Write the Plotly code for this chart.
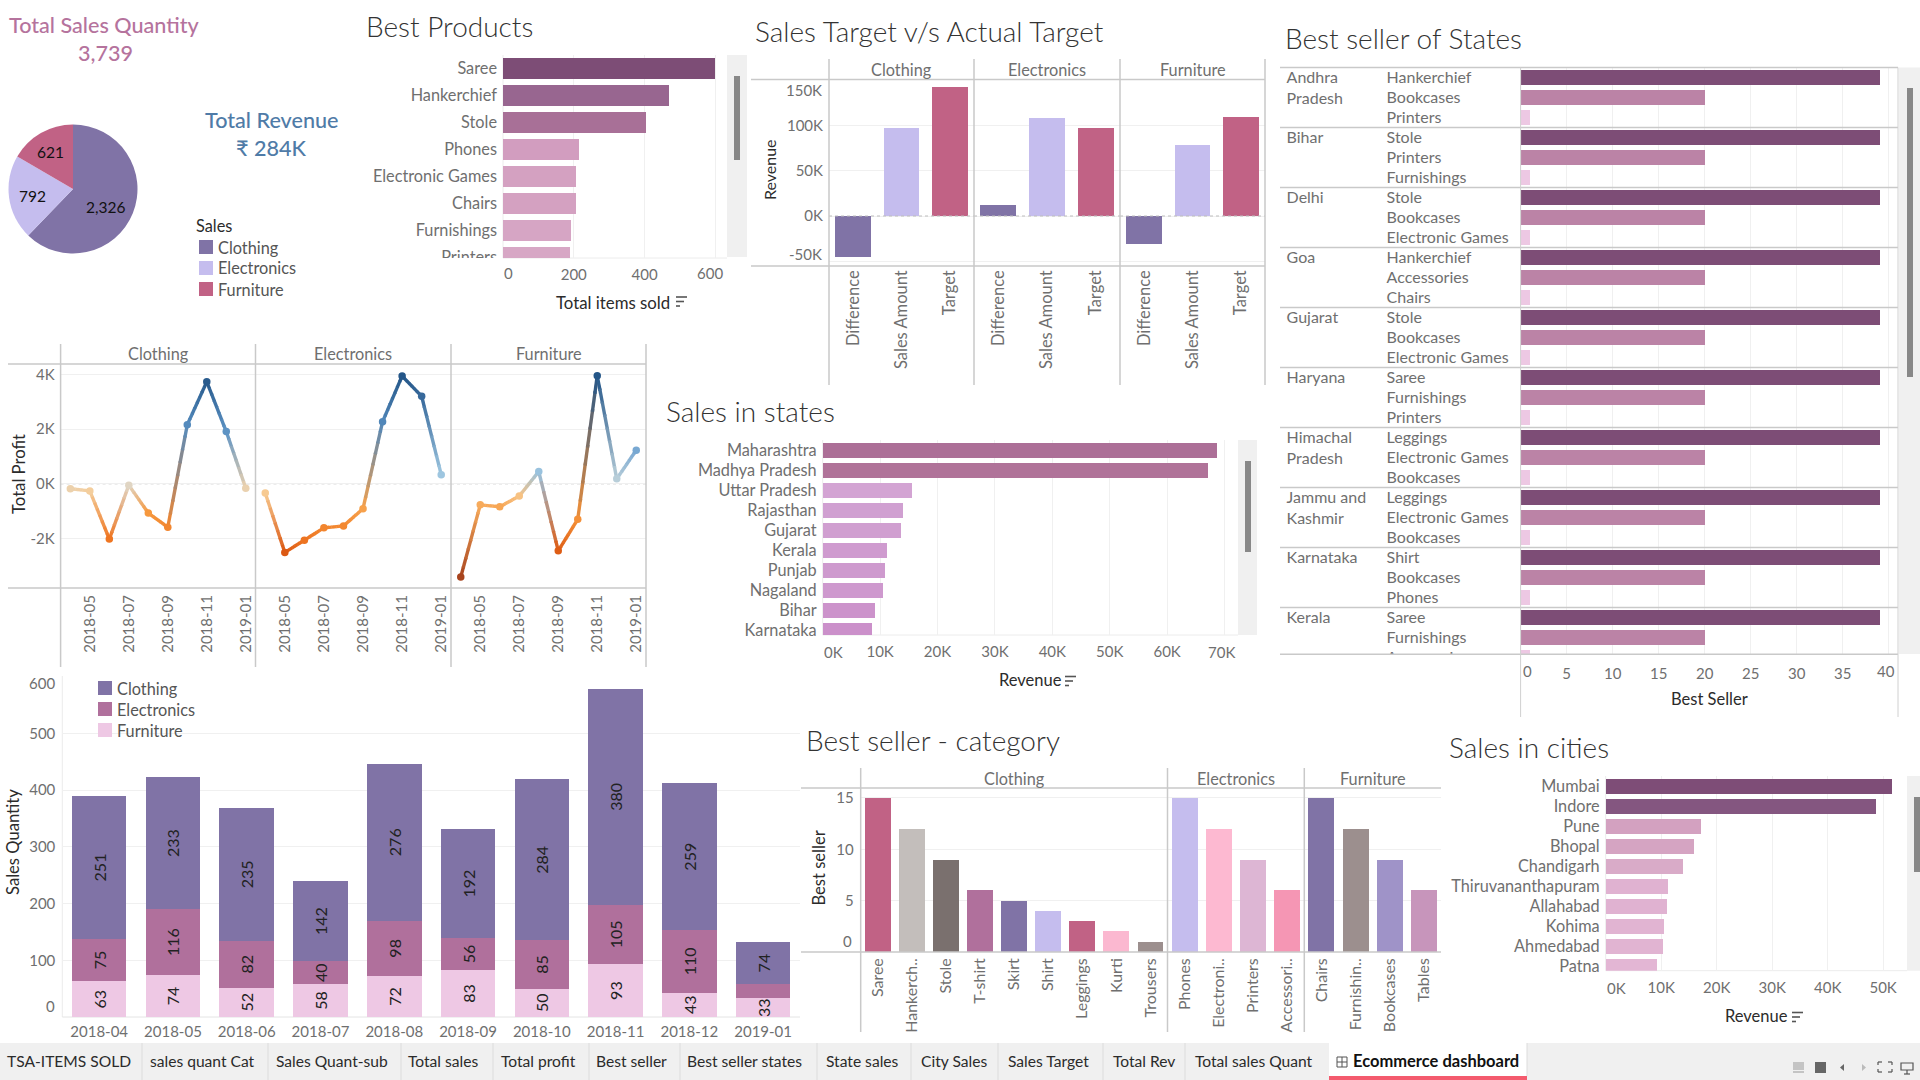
import numpy as np
import plotly.graph_objects as go

W, H = 1920, 1080
FONT = "Lato, sans-serif"
TICK = "#6f6f6f"
DARK = "#2b2b2b"
LINE = "#c9c9c9"
GRID = "#f0f0f0"
PURPLE, LILAC, ROSE = "#8073a6", "#c5bdee", "#c16285"
LABEL_SIZE = 16.3
NUM_SIZE = 15
TITLE_SIZE = 16.5

# ---------- data ----------
pie_labels = ["Clothing", "Electronics", "Furniture"]
pie_values = [2326, 792, 621]

products = ["Saree", "Hankerchief", "Stole", "Phones", "Electronic Games", "Chairs", "Furnishings", "Printers"]
product_items = [600, 470, 403, 216, 207, 207, 193, 188]
product_colors = ["#7d4d76", "#986690", "#a87097", "#d29dbf", "#d4a1c1", "#d4a1c1", "#d6a5c4", "#d7a7c5"]

target_cats = ["Difference", "Sales Amount", "Target"]
target_clothing = [-45300, 97100, 142400]
target_electronics = [12100, 108200, 97100]
target_furniture = [-30900, 78400, 109300]

months = ["2018-04", "2018-05", "2018-06", "2018-07", "2018-08", "2018-09", "2018-10", "2018-11", "2018-12", "2019-01"]
profit_ticks = ["2018-05", "2018-07", "2018-09", "2018-11", "2019-01"]
profit_clothing = [-180, -260, -2020, -50, -1070, -1590, 2160, 3730, 1910, -160]
profit_electronics = [-340, -2510, -2060, -1610, -1540, -910, 2270, 3940, 3200, 330]
profit_furniture = [-3410, -770, -840, -450, 450, -2450, -1300, 3950, 180, 1230]

qty_furniture = [63, 74, 52, 58, 72, 83, 50, 93, 43, 33]
qty_electronics = [75, 116, 82, 40, 98, 56, 85, 105, 110, 25]
qty_clothing = [251, 233, 235, 142, 276, 192, 284, 380, 259, 74]

states = ["Maharashtra", "Madhya Pradesh", "Uttar Pradesh", "Rajasthan", "Gujarat", "Kerala", "Punjab", "Nagaland", "Bihar", "Karnataka"]
state_revenue = [68700, 67200, 15600, 14000, 13700, 11200, 10900, 10500, 9100, 8600]
state_colors = ["#ac6f97", "#b07399", "#d3a4d3", "#d0a0d1", "#d09fd0", "#cf9bcf", "#ce9ace", "#ce99ce", "#cc93cb", "#cb90ca"]

seller_states = [["Andhra", "Pradesh"], ["Bihar"], ["Delhi"], ["Goa"], ["Gujarat"], ["Haryana"],
                 ["Himachal", "Pradesh"], ["Jammu and", "Kashmir"], ["Karnataka"], ["Kerala"]]
seller_products = [
    ["Hankerchief", "Bookcases", "Printers"], ["Stole", "Printers", "Furnishings"],
    ["Stole", "Bookcases", "Electronic Games"], ["Hankerchief", "Accessories", "Chairs"],
    ["Stole", "Bookcases", "Electronic Games"], ["Saree", "Furnishings", "Printers"],
    ["Leggings", "Electronic Games", "Bookcases"], ["Leggings", "Electronic Games", "Bookcases"],
    ["Shirt", "Bookcases", "Phones"], ["Saree", "Furnishings", "Accessories"]]
seller_rank_values = [39, 20, 1]
seller_rank_colors = ["#7d4d76", "#bb83a6", "#edc8e3"]

cat_clothing = ["Saree", "Hankerch..", "Stole", "T-shirt", "Skirt", "Shirt", "Leggings", "Kurti", "Trousers"]
val_clothing = [15, 12, 9, 6, 5, 4, 3, 2, 1]
col_clothing = ["#c16285", "#c3bebb", "#7a706e", "#b0709c", "#8073a6", "#c5bdee", "#c16285", "#fbb8d0", "#9c8f8e"]
cat_electronics = ["Phones", "Electroni..", "Printers", "Accessori.."]
val_electronics = [15, 12, 9, 6]
col_electronics = ["#c5bdee", "#fdb9d1", "#ddb6d4", "#f596b4"]
cat_furniture = ["Chairs", "Furnishin..", "Bookcases", "Tables"]
val_furniture = [15, 12, 9, 6]
col_furniture = ["#8073a6", "#9c8f8e", "#9f93c8", "#c795bb"]

cities = ["Mumbai", "Indore", "Pune", "Bhopal", "Chandigarh", "Thiruvananthapuram", "Allahabad", "Kohima", "Ahmedabad", "Patna"]
city_revenue = [51600, 48700, 17200, 15900, 13900, 11200, 11000, 10500, 10300, 9200]
city_colors = ["#7e4d77", "#845680", "#d3a1c0", "#d5a4c2", "#d9abc8", "#e0b2d1", "#e0b2d1", "#e1b4d2", "#e1b4d2", "#e3b6d4"]

tabs = ["TSA-ITEMS SOLD", "sales quant Cat", "Sales Quant-sub", "Total sales", "Total profit", "Best seller",
        "Best seller states", "State sales", "City Sales", "Sales Target", "Total Rev", "Total sales Quant"]
active_tab = "Ecommerce dashboard"
tab_x = [7, 149.5, 275.5, 408, 500.5, 596.4, 687, 826, 921, 1008, 1113, 1195]
tab_sep = [142, 268, 401, 493, 589, 680, 817, 911, 998, 1103, 1185]

# ---------- helpers ----------
fig = go.Figure()
shapes, annots, layout = [], [], {}


def px(x):
    return x / W


def py(y):
    return 1 - y / H


def text(x, y, s, size=NUM_SIZE, color=TICK, anchor="left", angle=0, weight=None, vanchor="middle"):
    f = dict(family=FONT, size=size, color=color)
    if weight:
        f["weight"] = weight
    annots.append(dict(x=px(x), y=py(y - 1), xref="paper", yref="paper", text=s, showarrow=False, font=f,
                       xanchor=anchor, yanchor=vanchor, textangle=angle, borderpad=0, borderwidth=0))


def rect(x0, y0, x1, y1, fill, layer="above"):
    shapes.append(dict(type="rect", xref="paper", yref="paper", x0=px(x0), x1=px(x1), y0=py(y0), y1=py(y1),
                       fillcolor=fill, line=dict(width=0), layer=layer))


def seg(x0, y0, x1, y1, color=LINE, width=1.5, dash=None, layer="above"):
    ln = dict(color=color, width=width)
    if dash:
        ln["dash"] = dash
    shapes.append(dict(type="line", xref="paper", yref="paper", x0=px(x0), x1=px(x1), y0=py(y0), y1=py(y1),
                       line=ln, layer=layer))


def sort_icon(x, y):
    for dy, w in ((-4.5, 11), (0, 8), (4.5, 4)):
        seg(x, y + dy, x + w, y + dy, color="#555555", width=1.6)


def axes(i, left, right, top, bottom, xopts, yopts):
    base = dict(showgrid=False, zeroline=False, showline=False, ticks="", fixedrange=True, automargin=False,
                tickfont=dict(family=FONT, size=NUM_SIZE, color=TICK))
    x = dict(base, domain=[px(left), px(right)], anchor=f"y{i}", side="bottom")
    y = dict(base, domain=[py(bottom), py(top)], anchor=f"x{i}")
    x.update(xopts)
    y.update(yopts)
    layout[f"xaxis{i}"] = x
    layout[f"yaxis{i}"] = y
    return f"x{i}", f"y{i}"


def hbar(i, cats, vals, colors, left, right, top, bottom, xrange, rng, ticks, ticktext, height=0.77):
    xa, ya = axes(i, left, right, top, bottom,
                  dict(range=xrange, tickvals=ticks, ticktext=ticktext, showgrid=True, gridcolor=GRID, gridwidth=1,
                       ticklabelstandoff=6),
                  dict(type="category", categoryorder="array", categoryarray=cats, range=rng, ticklabelstandoff=5,
                       tickmode="array", tickvals=cats, ticktext=cats,
                       tickfont=dict(family=FONT, size=LABEL_SIZE, color=TICK)))
    fig.add_trace(go.Bar(orientation="h", y=cats, x=vals, marker=dict(color=colors, line=dict(width=0)),
                         width=height, xaxis=xa, yaxis=ya, showlegend=False))
    seg(left, top, left, bottom, color="#ececec", width=1, layer="below")
    seg(left, bottom, right, bottom, color="#ececec", width=1, layer="below")


def scroll(tx0, tx1, ty0, ty1, thx0, thx1, thy0, thy1):
    rect(tx0, ty0, tx1, ty1, "#f0f0f0", layer="below")
    rect(thx0, thy0, thx1, thy1, "#888888")


# ---------- KPI + pie ----------
text(104, 26, "Total Sales Quantity", size=21.6, color="#b5739d", anchor="center", weight=500)
text(105, 54, f"{sum(pie_values):,}", size=21.6, color="#b5739d", anchor="center", weight=500)
text(271, 121, "Total Revenue", size=21.6, color="#4f7ba7", anchor="center", weight=500)
text(271, 149, "₹ 284K", size=21.6, color="#4f7ba7", anchor="center", weight=500)

fig.add_trace(go.Pie(labels=pie_labels, values=pie_values, sort=False, direction="clockwise", rotation=0,
                     marker=dict(colors=[PURPLE, LILAC, ROSE], line=dict(width=0)), textinfo="none",
                     domain=dict(x=[px(8.5), px(137.5)], y=[py(253.5), py(124.5)]), showlegend=False))
text(105, 208, f"{pie_values[0]:,}", size=15.5, color="#111111", anchor="center")
text(32, 197, f"{pie_values[1]:,}", size=15.5, color="#111111", anchor="center")
text(50, 153, f"{pie_values[2]:,}", size=15.5, color="#111111", anchor="center")

text(196, 226, "Sales", size=LABEL_SIZE, color=DARK)
for k, (lab, c) in enumerate(zip(pie_labels, [PURPLE, LILAC, ROSE])):
    rect(199, 240 + 21 * k, 213, 254 + 21 * k, c)
    text(218, 248 + 21 * k, lab, size=LABEL_SIZE, color="#555555")

# ---------- Best Products ----------
TITLE = dict(size=28, color="#333333", weight=300)
text(366, 27, "Best Products", **TITLE)
hbar(2, products, product_items, product_colors, 503, 727, 55, 258, [0, 633], [7.02, -0.5],
     [0, 200, 400, 600], [" ", "200", "400", " "])
rect(440, 258, 502, 266, "#ffffff")
text(509, 274, "0", anchor="center")
text(710, 274, "600", anchor="center")
scroll(727, 747, 55, 257, 734, 740, 76, 160)
text(613, 303, "Total items sold", size=16.8, color=DARK, anchor="center")
sort_icon(676, 301.5)

# ---------- Sales Target ----------
text(755, 32, "Sales Target v/s Actual Target", **TITLE)
target_data = [("Clothing", target_clothing, 829, 974), ("Electronics", target_electronics, 974, 1120),
               ("Furniture", target_furniture, 1120, 1265)]
for k, (name, vals, l, r) in enumerate(target_data):
    i = 3 + k
    xa, ya = axes(i, l, r, 79.5, 266,
                  dict(type="category", categoryorder="array", categoryarray=target_cats, range=[-0.5, 2.5],
                       tickangle=-90, ticklabelstandoff=0, tickfont=dict(family=FONT, size=16.5, color=TICK)),
                  dict(range=[-55200, 150700], tickvals=[-50000, 0, 50000, 100000, 150000],
                       ticktext=[" ", "0K", "50K", "100K", " "] if k == 0 else [""] * 5,
                       showticklabels=k == 0, showgrid=True, gridcolor=GRID, ticklabelstandoff=5))
    fig.add_trace(go.Bar(x=target_cats, y=vals, marker=dict(color=[PURPLE, LILAC, ROSE], line=dict(width=0)),
                         width=0.74, xaxis=xa, yaxis=ya, showlegend=False))
    shapes.append(dict(type="line", xref="paper", yref=ya, x0=px(l), x1=px(r), y0=0, y1=0,
                       line=dict(color="#bdbdbd", width=1, dash="dot"), layer="above"))
    text((l + r) / 2, 70, name, size=LABEL_SIZE, anchor="center")
text(822, 91, "150K", anchor="right")
text(822, 255, "-50K", anchor="right")
for x in (829, 974, 1120, 1265):
    seg(x, 59, x, 385)
seg(751, 79.5, 1265, 79.5)
seg(751, 266, 1265, 266)
text(769, 171, "Revenue", size=16, color=DARK, anchor="center", angle=-90)

# ---------- Profit lines ----------
stops_v = [-3400, -2500, -2000, -1000, -300, 0, 300, 1000, 2000, 3000, 4000]
stops_c = [(168, 68, 30), (220, 90, 20), (240, 120, 35), (247, 155, 65), (248, 205, 150), (220, 215, 205),
           (160, 200, 225), (130, 175, 215), (90, 145, 195), (60, 110, 160), (35, 85, 135)]


def val_rgb(v):
    return [float(np.interp(v, stops_v, [c[j] for c in stops_c])) for j in range(3)]


def css(rgb):
    return "rgb(%d,%d,%d)" % tuple(rgb)


profit_data = [("Clothing", profit_clothing, 60.6, 255.5), ("Electronics", profit_electronics, 255.5, 451),
               ("Furniture", profit_furniture, 451, 646)]
for k, (name, vals, l, r) in enumerate(profit_data):
    i = 6 + k
    xa, ya = axes(i, l, r, 364, 588,
                  dict(type="linear", range=[-0.5, 9.5], tickmode="array",
                       tickvals=[months.index(t) for t in profit_ticks], ticktext=profit_ticks, tickangle=-90,
                       ticklabelstandoff=3),
                  dict(range=[-3810, 4380], tickvals=[-2000, 0, 2000, 4000], ticktext=["-2K", "0K", "2K", "4K"],
                       showticklabels=k == 0, showgrid=True, gridcolor=GRID, ticklabelstandoff=5))
    # the colour ramp along each segment is styling only; the marks stay on the monthly values
    for m in range(len(months) - 1):
        a, b = vals[m], vals[m + 1]
        ca, cb = val_rgb(a), val_rgb(b)
        for t in range(8):
            f0, f1 = t / 8, min((t + 1.15) / 8, 1)
            fm = (f0 + f1) / 2
            col = [ca[j] + (cb[j] - ca[j]) * fm for j in range(3)]
            fig.add_trace(go.Scatter(x=[m + f0, m + f1], y=[a + (b - a) * f0, a + (b - a) * f1], mode="lines",
                                     xaxis=xa, yaxis=ya, hoverinfo="skip", showlegend=False,
                                     line=dict(color=css(col), width=3.4)))
    fig.add_trace(go.Scatter(x=list(range(len(months))), y=vals, mode="markers", xaxis=xa, yaxis=ya, showlegend=False,
                             marker=dict(size=7.5, color=[css(val_rgb(v)) for v in vals], line=dict(width=0))))
    shapes.append(dict(type="line", xref="paper", yref=ya, x0=px(l), x1=px(r), y0=0, y1=0,
                       line=dict(color="#bdbdbd", width=1, dash="dot"), layer="below"))
    text((l + r) / 2, 355, name, size=LABEL_SIZE, anchor="center")
for x in (60.6, 255.5, 451, 646):
    seg(x, 344, x, 667)
seg(8, 364, 646, 364)
seg(8, 588, 646, 588)
text(19, 475, "Total Profit", size=16.7, color=DARK, anchor="center", angle=-90)

# ---------- Stacked quantity ----------
xa, ya = axes(9, 62.3, 800, 676, 1017,
              dict(type="category", categoryorder="array", categoryarray=months, range=[-0.5, 9.5], ticklabelstandoff=4),
              dict(range=[0, 601], tickvals=[0, 100, 200, 300, 400, 500, 600],
                   ticktext=[" ", "100", "200", "300", "400", "500", " "], showgrid=True, gridcolor=GRID,
                   ticklabelstandoff=6))
for name, vals, c in (("Furniture", qty_furniture, "#eec8e4"), ("Electronics", qty_electronics, "#b0709c"),
                      ("Clothing", qty_clothing, PURPLE)):
    labels = [str(v) if v >= 30 else "" for v in vals]
    fig.add_trace(go.Bar(x=months, y=vals, name=name, marker=dict(color=c, line=dict(width=0)), width=0.74, text=labels,
                         textposition="inside", insidetextanchor="middle", textangle=-90, constraintext="none",
                         textfont=dict(family=FONT, size=16, color="#222222"), xaxis=xa, yaxis=ya, showlegend=False))
seg(62.3, 676, 62.3, 1017, color="#ececec", width=1, layer="below")
seg(62.3, 1017, 800, 1017, color="#e4e4e4", width=1, layer="below")
text(55, 684, "600", anchor="right")
text(55, 1007, "0", anchor="right")
for k, (lab, c) in enumerate(zip(pie_labels, [PURPLE, "#b0709c", "#eec8e4"])):
    rect(98, 681 + 21 * k, 112, 695 + 21 * k, c)
    text(117, 689 + 21 * k, lab, size=LABEL_SIZE, color="#555555")
text(13, 843, "Sales Quantity", size=16.6, color=DARK, anchor="center", angle=-90)

# ---------- Sales in states ----------
text(666, 412, "Sales in states", **TITLE)
hbar(10, states, state_revenue, state_colors, 822.7, 1238, 440, 635, [0, 72350], [9.22, -0.525],
     [0, 10000, 20000, 30000, 40000, 50000, 60000, 70000], [" ", "10K", "20K", "30K", "40K", "50K", "60K", " "], height=0.75)
text(833, 653, "0K", anchor="center")
text(1221, 653, "70K", anchor="center")
scroll(1238, 1257, 440, 635, 1245, 1251, 461, 552)
text(1030, 681, "Revenue", size=TITLE_SIZE, color=DARK, anchor="center")
sort_icon(1065, 681)

# ---------- Best seller of states ----------
text(1285, 39, "Best seller of States", **TITLE)
seller_vals = seller_rank_values * len(seller_products)
seller_idx = list(range(len(seller_vals)))
seller_cols = seller_rank_colors * len(seller_products)
xa, ya = axes(11, 1520.6, 1898, 67.5, 654.3,
              dict(range=[0, 41], tickvals=[0, 5, 10, 15, 20, 25, 30, 35, 40],
                   ticktext=[" ", "5", "10", "15", "20", "25", "30", "35", " "], showgrid=True, gridcolor=GRID,
                   ticklabelstandoff=9),
              dict(range=[28.84, -0.5], showticklabels=False))
fig.add_trace(go.Bar(orientation="h", y=seller_idx, x=seller_vals, marker=dict(color=seller_cols, line=dict(width=0)),
                     width=0.75, xaxis=xa, yaxis=ya, showlegend=False))
text(1527, 672, "0", anchor="center")
text(1886, 672, "40", anchor="center")
xb, yb = axes(12, 1280, 1520, 67.5, 654.3, dict(range=[0, 240], visible=False),
              dict(range=[28.84, -0.5], visible=False))
prod_labels = [p for row in seller_products for p in row]
TEXT_NUDGE = 0.06  # row labels sit a touch below the row centre
fig.add_trace(go.Scatter(x=[106.6] * len(prod_labels), y=[v + TEXT_NUDGE for v in seller_idx], mode="text",
                         text=prod_labels, textposition="middle right",
                         textfont=dict(family=FONT, size=16, color=TICK),
                         xaxis=xb, yaxis=yb, showlegend=False, hoverinfo="skip"))
st_y, st_text = [], []
for k, lines in enumerate(seller_states):
    for j, s in enumerate(lines):
        st_y.append(k * 3 + j * 1.05 + TEXT_NUDGE)
        st_text.append(s)
fig.add_trace(go.Scatter(x=[6.6] * len(st_y), y=st_y, mode="text", text=st_text, textposition="middle right",
                         textfont=dict(family=FONT, size=16, color=TICK), xaxis=xb, yaxis=yb, showlegend=False,
                         hoverinfo="skip"))
for k in range(10):
    seg(1280, 67.5 + 60 * k, 1898, 67.5 + 60 * k)
seg(1280, 654.3, 1898, 654.3)
seg(1520.6, 67.5, 1520.6, 717, color="#d0d0d0", width=1)
seg(1898, 67.5, 1898, 717, color="#d0d0d0", width=1)
scroll(1899, 1920, 67.5, 654, 1907, 1913, 88, 377)
text(1709, 700, "Best Seller", size=TITLE_SIZE, color=DARK, anchor="center")

# ---------- Best seller - category ----------
text(806, 741, "Best seller - category", **TITLE)
cat_data = [("Clothing", cat_clothing, val_clothing, col_clothing, 860.7, 1167.5),
            ("Electronics", cat_electronics, val_electronics, col_electronics, 1167.5, 1304.3),
            ("Furniture", cat_furniture, val_furniture, col_furniture, 1304.3, 1441)]
for k, (name, cats, vals, cols, l, r) in enumerate(cat_data):
    i = 13 + k
    xa, ya = axes(i, l, r, 788, 952,
                  dict(type="category", categoryorder="array", categoryarray=cats, range=[-0.5, len(cats) - 0.5],
                       tickangle=-90, ticklabelstandoff=2, tickfont=dict(family=FONT, size=16, color=TICK)),
                  dict(range=[0, 15.97], tickvals=[0, 5, 10, 15], ticktext=[" ", "5", "10", "15"],
                       showticklabels=k == 0, showgrid=True, gridcolor=GRID, ticklabelstandoff=6))
    fig.add_trace(go.Bar(x=cats, y=vals, marker=dict(color=cols, line=dict(width=0)), width=0.76, xaxis=xa, yaxis=ya,
                         showlegend=False))
    text((l + r) / 2, 779, name, size=LABEL_SIZE, anchor="center")
text(852, 942, "0", anchor="right")
for x in (860.7, 1167.5, 1304.3):
    seg(x, 768, x, 1032)
seg(801, 788, 1441, 788)
seg(801, 952, 1441, 952)
text(818.6, 869, "Best seller", size=16.6, color=DARK, anchor="center", angle=-90)

# ---------- Sales in cities ----------
text(1449, 748, "Sales in cities", **TITLE)
hbar(16, cities, city_revenue, city_colors, 1605.7, 1907, 776, 970.7, [0, 54300], [9.21, -0.525],
     [0, 10000, 20000, 30000, 40000, 50000], [" ", "10K", "20K", "30K", "40K", "50K"], height=0.75)
text(1616, 989, "0K", anchor="center")
scroll(1907, 1920, 776, 970.7, 1914, 1920, 797, 872)
text(1756, 1017, "Revenue", size=TITLE_SIZE, color=DARK, anchor="center")
sort_icon(1792, 1017)

# ---------- Tab bar ----------
rect(0, 1043, 1920, 1080, "#f0f0f0", layer="below")
rect(1329, 1043, 1527, 1080, "#ffffff", layer="below")
rect(1329, 1076, 1527, 1080, "#f45b6e")
seg(1527, 1043, 1527, 1076, color="#dcdcdc", width=1)
for x in tab_sep:
    seg(x, 1043, x, 1080, color="#dcdcdc", width=1)
for x, t in zip(tab_x, tabs):
    text(x, 1062, t, size=15.6, color=DARK)
text(1353, 1062, active_tab, size=16.5, color="#111111", weight=700)
shapes.append(dict(type="rect", xref="paper", yref="paper", x0=px(1337), x1=px(1347), y0=py(1057), y1=py(1067),
                   line=dict(color="#555555", width=1), fillcolor="rgba(0,0,0,0)"))
seg(1342, 1057, 1342, 1067, color="#555555", width=1)
seg(1337, 1062, 1347, 1062, color="#555555", width=1)
# view controls
rect(1793, 1062, 1804, 1070, "#c4c4c4")
rect(1793, 1071, 1804, 1073, "#c4c4c4")
rect(1815, 1062, 1826, 1073, "#666666")
shapes.append(dict(type="path", xref="paper", yref="paper", fillcolor="#666666", line=dict(width=0),
                   path=f"M {px(1844)} {py(1064)} L {px(1840)} {py(1067.5)} L {px(1844)} {py(1071)} Z"))
shapes.append(dict(type="path", xref="paper", yref="paper", fillcolor="#bbbbbb", line=dict(width=0),
                   path=f"M {px(1862)} {py(1064)} L {px(1866)} {py(1067.5)} L {px(1862)} {py(1071)} Z"))
for x0, y0, dx, dy in ((1878, 1062, 4, 3), (1892, 1062, -4, 3), (1878, 1072, 4, -3), (1892, 1072, -4, -3)):
    seg(x0, y0, x0 + dx, y0, color="#555555", width=1.2)
    seg(x0, y0, x0, y0 + dy, color="#555555", width=1.2)
shapes.append(dict(type="rect", xref="paper", yref="paper", x0=px(1901), x1=px(1913), y0=py(1063), y1=py(1070),
                   line=dict(color="#555555", width=1.2), fillcolor="rgba(0,0,0,0)"))
seg(1907, 1070, 1907, 1074, color="#555555", width=1.2)
seg(1904, 1074, 1910, 1074, color="#555555", width=1.2)

fig.update_layout(width=W, height=H, margin=dict(l=0, r=0, t=0, b=0, pad=0), paper_bgcolor="#ffffff",
                  plot_bgcolor="rgba(0,0,0,0)", barmode="stack", bargap=0.26, shapes=shapes, annotations=annots,
                  font=dict(family=FONT, size=15, color=TICK), showlegend=False, **layout)
fig.write_html("out.html", config=dict(displayModeBar=False),
               post_script="document.body.style.margin='0';document.body.style.overflow='hidden';")
